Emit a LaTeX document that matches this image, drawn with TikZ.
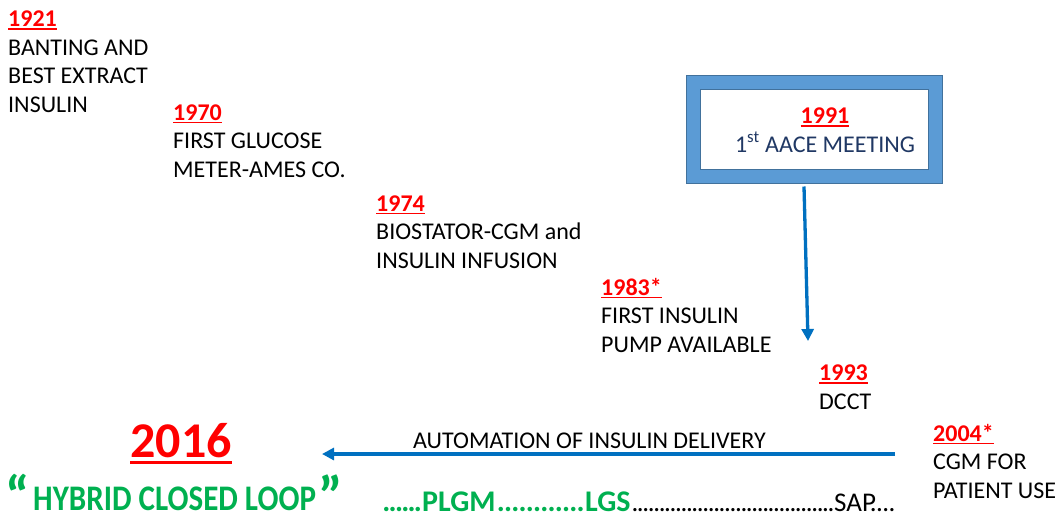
\documentclass[tikz,border=0pt]{standalone}
\usepackage{fontspec}
\setmainfont{Carlito}
\usetikzlibrary{arrows.meta}

\definecolor{yearred}{HTML}{FF0000}
\definecolor{loopgreen}{HTML}{00B050}
\definecolor{flowblue}{HTML}{0070C0}
\definecolor{framefill}{HTML}{5B9BD5}
\definecolor{frameedge}{HTML}{41719C}
\definecolor{navytext}{HTML}{203864}

% bold red year with a solid underline
\newcommand\yr[1]{{\bfseries\color{yearred}\setbox0\hbox{#1}\rlap{\vrule height -1.6pt depth 3.4pt width \wd0}\box0}}
\newcommand\bigyr[1]{{\bfseries\color{yearred}\setbox0\hbox{#1}\rlap{\vrule height -3.7pt depth 7pt width \wd0}\box0}}
% a run of evenly spread dots of a given total width
\newcommand\dotrun[2]{\hbox to #1{\xleaders\hbox to #2{\hss.\hss}\hfill}}
\newcommand\bodyfont{\fontsize{24}{28.5}\selectfont}

% multi-line nodes are placed by the baseline of their last line
\tikzset{
  ev/.style={anchor=base west, align=left, inner sep=0pt, font=\bodyfont},
  flow/.style={draw=flowblue, line width=3.3pt, -{Triangle[length=12pt,width=12pt]}},
  greenbold/.style={anchor=base west, inner sep=0pt, text=loopgreen, font=\fontsize{30}{32}\selectfont\bfseries},
  bigquote/.style={greenbold, text depth=0pt, font=\fontsize{56}{60}\selectfont\bfseries},
  blackdots/.style={anchor=base west, inner sep=0pt, font=\fontsize{27}{30}\selectfont},
}

\begin{document}
\begin{tikzpicture}[x=1pt, y=-1pt]
\useasboundingbox (0,0) rectangle (1059,517);

% timeline events
\node[ev] (e1921) at (8,112)   {\yr{1921}\\BANTING AND\\BEST EXTRACT\\INSULIN};
\node[ev] (e1970) at (173,177) {\yr{1970}\\FIRST GLUCOSE\\METER-AMES CO.};
\node[ev] (e1974) at (376,268) {\yr{1974}\\BIOSTATOR-CGM and\\INSULIN INFUSION};
\node[ev] (e1983) at (601,352) {\yr{1983*}\\FIRST INSULIN\\PUMP AVAILABLE};
\node[ev] (e1993) at (819,409) {\yr{1993}\\DCCT};
\node[ev] (e2004) at (933,498) {\yr{2004*}\\CGM FOR\\PATIENT USE};

% framed 1991 box
\node[draw=frameedge, line width=1pt, fill=framefill, minimum width=256pt, minimum height=108pt, inner sep=0pt] (box) at (814,129) {};
\draw[frameedge, line width=0.8pt, fill=white] (700,89) rectangle (928,169);
\node[anchor=base, align=center, inner sep=0pt, font=\bodyfont, text=navytext] (e1991) at (825,152) {\yr{1991}\\1\textsuperscript{st} AACE MEETING};

% arrow from the box down to 1993
\coordinate (vend) at (808,341);
\draw[flow] ([xshift=-10pt, yshift=-3pt]box.south) -- (vend);

% automation arrow
\coordinate (hstart) at (895,454);
\coordinate (hend) at (322,454);
\draw[flow] (hstart) -- (hend);
\node[anchor=base west, inner sep=0pt, font=\bodyfont] (auto) at (413,448) {AUTOMATION OF INSULIN DELIVERY};

% 2016 hybrid closed loop
\node[anchor=base, inner sep=0pt, font=\fontsize{50}{56}\selectfont] (y2016) at (181,457) {\bigyr{2016}};
\node[greenbold, font=\fontsize{36}{40}\selectfont\bfseries] (hcl) at (33,510) {\scalebox{0.862}[1]{HYBRID CLOSED LOOP}};
\node[bigquote] (lq) at (5,515) {“};
\node[bigquote] (rq) at (318,515) {”};

% PLGM ... LGS ... SAP line
\node[greenbold] (d1) at (383,511) {\dotrun{38pt}{6.2pt}};
\node[greenbold] (plgm) at (422,511) {PLGM};
\node[greenbold] (d2) at (497,511) {\dotrun{87pt}{7.25pt}};
\node[greenbold] (lgs) at (585,511) {LGS};
\node[blackdots] (d3) at (632,511) {\dotrun{202pt}{5.45pt}};
\node[blackdots] (sap) at (834,511) {SAP};
\node[blackdots] (d4) at (870,511) {\dotrun{25pt}{6.2pt}};
\end{tikzpicture}
\end{document}
